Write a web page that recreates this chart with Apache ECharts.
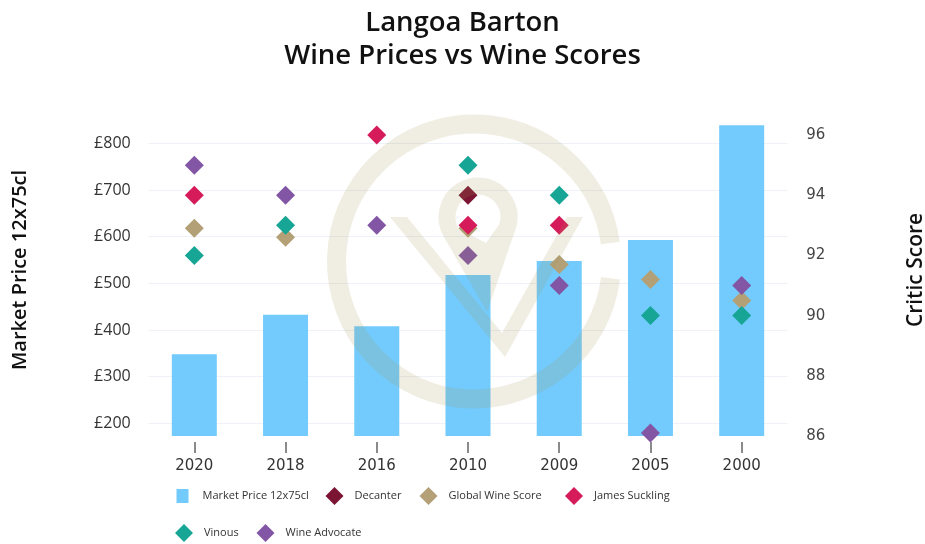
<!DOCTYPE html>
<html>
<head>
<meta charset="utf-8">
<script src="https://cdn.jsdelivr.net/npm/echarts@6/dist/echarts.min.js"></script>
<style>
  html, body { margin: 0; padding: 0; background: #ffffff; }
  #chart { width: 925px; height: 544px; }
</style>
</head>
<body>
<div id="chart"></div>
<script>
// ---- data ----
const categories = ['2020', '2018', '2016', '2010', '2009', '2005', '2000'];
const marketPrice = [348, 433, 408, 518, 548, 593, 839];
const decanter = [null, null, null, 94, null, null, null];
const globalWineScore = [92.9, 92.6, null, 92.9, 91.7, 91.2, 90.5];
const jamesSuckling = [94, null, 96, 93, 93, null, null];
const vinous = [92, 93, null, 95, 94, 90, 90];
const wineAdvocate = [95, 94, 93, 92, 91, 86.1, 91];
const priceRange = [173, 850];
const scoreRange = [86, 96.5];
const scoreStep = 2;

const colors = {
  bar: '#73CBFD',
  decanter: '#7B1533',
  gws: '#B3A077',
  js: '#D51B5A',
  vinous: '#17A595',
  wa: '#8256A4'
};

const wm = 'rgba(164,146,79,0.165)';
const deg = Math.PI / 180;

const chart = echarts.init(document.getElementById('chart'), null, { renderer: 'canvas' });

function legendItem(name, icon, left, top) {
  return {
    left: left, top: top, padding: 0,
    itemWidth: 18, itemHeight: 18,
    data: [{ name: name, icon: icon }],
    textStyle: { fontFamily: 'Open Sans', fontSize: 11, color: '#333', padding: [0, 0, 0, 6] }
  };
}

const scatterBase = {
  type: 'scatter',
  yAxisIndex: 1,
  symbol: 'diamond',
  symbolSize: 19
};

chart.setOption({
  animation: false,
  title: {
    text: 'Langoa Barton\nWine Prices vs Wine Scores',
    left: 'center',
    top: 7,
    padding: 0,
    textStyle: { fontFamily: 'Open Sans', fontSize: 27.5, fontWeight: 600, color: '#111', lineHeight: 33 }
  },
  grid: { left: 148.7, right: 137.7, top: 120, bottom: 108, containLabel: false, outerBoundsMode: 'none' },
  legend: [
    legendItem('Market Price 12x75cl', 'path://M0,0L0,0M3,2L15,2L15,16L3,16ZM18,18L18,18', 173.5, 487),
    legendItem('Decanter', 'diamond', 325.5, 487),
    legendItem('Global Wine Score', 'diamond', 419.5, 487),
    legendItem('James Suckling', 'diamond', 565, 487),
    legendItem('Vinous', 'diamond', 175, 524),
    legendItem('Wine Advocate', 'diamond', 256.5, 524)
  ],
  xAxis: {
    type: 'category',
    data: categories,
    offset: 6,
    axisLine: { show: false },
    axisTick: { show: true, alignWithLabel: true, length: 11, lineStyle: { color: '#666', width: 1.5 } },
    axisLabel: { margin: 17, fontFamily: 'DejaVu Sans', fontSize: 15, color: '#333' },
    splitLine: { show: false }
  },
  yAxis: [
    {
      type: 'value',
      min: priceRange[0],
      max: priceRange[1],
      name: 'Market Price 12x75cl',
      nameLocation: 'middle',
      nameGap: 118,
      nameRotate: 90,
      nameTextStyle: { fontFamily: 'Open Sans', fontSize: 20, fontWeight: 600, color: '#111', padding: [0, 0, 0, 16] },
      axisLine: { show: false },
      axisTick: { show: false },
      axisLabel: {
        margin: 18,
        showMinLabel: false,
        showMaxLabel: false,
        fontFamily: 'Open Sans', fontSize: 16, color: '#333',
        formatter: function (v) { return v % 100 === 0 ? '£' + v : ''; }
      },
      splitLine: { show: true, showMinLine: false, showMaxLine: false, lineStyle: { color: '#eef1f8', width: 1 } }
    },
    {
      type: 'value',
      min: scoreRange[0],
      max: scoreRange[1],
      interval: scoreStep,
      position: 'right',
      name: 'Critic Score',
      nameLocation: 'middle',
      nameGap: 118,
      nameRotate: 90,
      nameTextStyle: { fontFamily: 'Open Sans', fontSize: 21, fontWeight: 600, color: '#111', padding: [0, 0, 0, 16] },
      axisLine: { show: false },
      axisTick: { show: false },
      axisLabel: {
        margin: 19,
        showMaxLabel: false,
        fontFamily: 'DejaVu Sans', fontSize: 15, color: '#444',
        formatter: function (v) { return v % 2 === 0 ? String(v) : ''; }
      },
      splitLine: { show: false }
    }
  ],
  series: [
    {
      name: 'Market Price 12x75cl',
      type: 'bar',
      yAxisIndex: 0,
      barWidth: 45,
      data: marketPrice,
      itemStyle: { color: colors.bar }
    },
    Object.assign({}, scatterBase, { name: 'Decanter', data: decanter, itemStyle: { color: colors.decanter, opacity: 1 } }),
    Object.assign({}, scatterBase, { name: 'Global Wine Score', data: globalWineScore, itemStyle: { color: colors.gws, opacity: 1 } }),
    Object.assign({}, scatterBase, { name: 'James Suckling', data: jamesSuckling, itemStyle: { color: colors.js, opacity: 1 } }),
    Object.assign({}, scatterBase, { name: 'Vinous', data: vinous, itemStyle: { color: colors.vinous, opacity: 1 } }),
    Object.assign({}, scatterBase, { name: 'Wine Advocate', data: wineAdvocate, itemStyle: { color: colors.wa, opacity: 1 } })
  ],
  graphic: [
    {
      type: 'group', silent: true, z: 100,
      children: [
        {
          type: 'arc', z: 100,
          shape: { cx: 474, cy: 261.5, r: 137.5, startAngle: 7 * deg, endAngle: 352.3 * deg, clockwise: true },
          style: { stroke: wm, lineWidth: 19, fill: 'none' }
        },
        {
          type: 'polygon', z: 100,
          shape: { points: [[390, 217], [407, 217], [502, 333], [567, 217], [583, 217], [505, 357]] },
          style: { fill: wm }
        },
        {
          type: 'arc', z: 100,
          shape: { cx: 478, cy: 217, r: 31, startAngle: 148.7 * deg, endAngle: 378.7 * deg, clockwise: true },
          style: { stroke: wm, lineWidth: 17, fill: 'none' }
        },
        {
          type: 'polygon', z: 100,
          shape: { points: [[444.3, 237.5], [487, 312], [515.4, 229.7], [499.3, 224.2], [486, 243], [458.8, 228.7]] },
          style: { fill: wm }
        }
      ]
    }
  ]
});
</script>
</body>
</html>
